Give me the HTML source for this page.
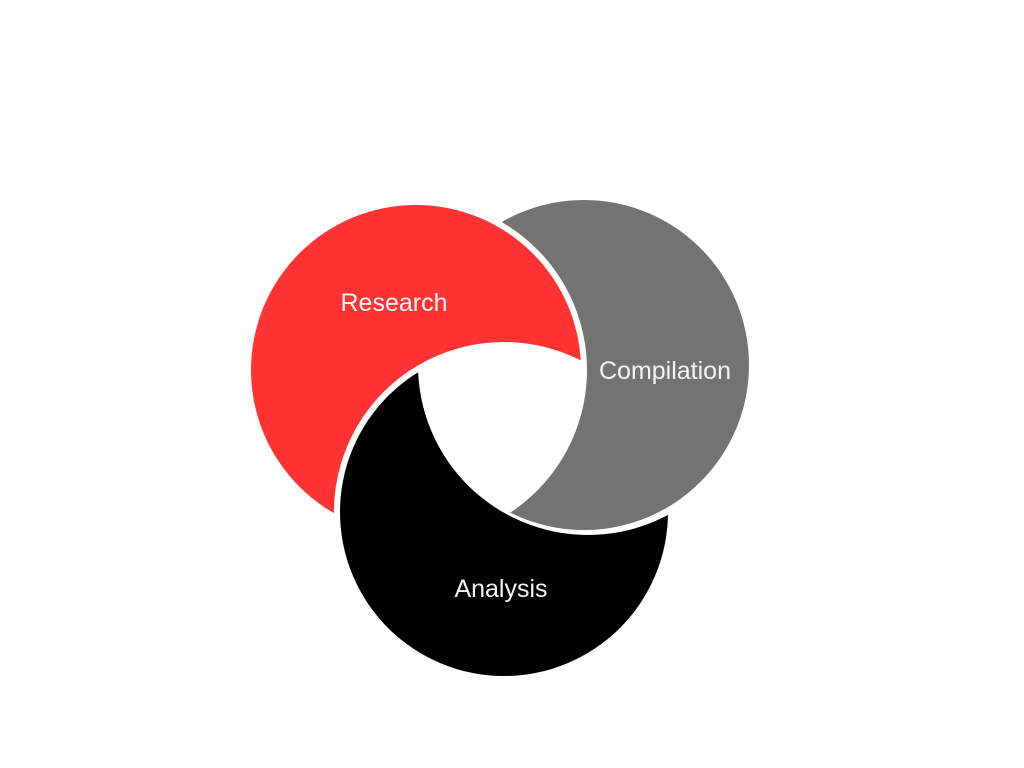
<!DOCTYPE html>
<html><head><style>html,body{margin:0;padding:0;background:#fff;width:1024px;height:768px;overflow:hidden}</style></head>
<body>
<svg width="1024" height="768" viewBox="0 0 1024 768" xmlns="http://www.w3.org/2000/svg">
<defs>
<mask id="mR"><rect width="1024" height="768" fill="#fff"/><circle cx="504" cy="512" r="170" fill="#000"/></mask>
<mask id="mB"><rect width="1024" height="768" fill="#fff"/><circle cx="588" cy="365" r="170" fill="#000"/></mask>
<mask id="mG"><rect width="1024" height="768" fill="#fff"/><circle cx="416" cy="370" r="171" fill="#000"/></mask>
</defs>
<circle cx="416" cy="370" r="165" fill="#ff3333" mask="url(#mR)"/>
<circle cx="504" cy="512" r="164" fill="#000" mask="url(#mB)"/>
<circle cx="584" cy="365" r="165" fill="#737373" mask="url(#mG)"/>
<g font-family="'Liberation Sans',sans-serif" font-size="25" fill="#f5f5f5" text-anchor="middle">
<text x="394" y="311">Research</text>
<text x="665" y="379">Compilation</text>
<text x="501" y="597">Analysis</text>
</g>
</svg>
</body></html>
